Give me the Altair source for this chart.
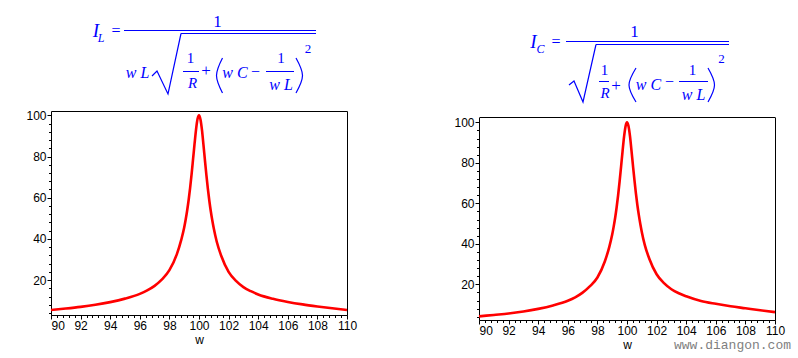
import altair as alt
import pandas as pd

# ---------------- data ----------------
w = [90, 91, 92, 93, 94, 95, 96, 96.5, 97, 97.5, 98, 98.5, 98.8, 99, 99.1, 99.2, 99.3,
     99.4, 99.5, 99.6, 99.7, 99.8, 99.9, 100, 100.1, 100.2, 100.3, 100.4, 100.5, 100.6,
     100.7, 100.8, 100.9, 101, 101.2, 101.5, 102, 102.5, 103, 103.5, 104, 105, 106, 107,
     108, 109, 110]
i_l = [5.5, 6.2, 7.0, 8.0, 9.3, 11.0, 13.3, 15.0, 17.2, 20.3, 24.8, 32.5, 39.5, 45.5, 49.4,
       53.8, 58.9, 64.8, 71.5, 78.8, 86.2, 93.1, 98.2, 100, 98.0, 92.9, 85.8, 78.3, 71.0,
       64.3, 58.4, 53.3, 48.9, 45.0, 38.6, 31.8, 24.0, 19.6, 16.6, 14.6, 13.0, 10.9, 9.4,
       8.2, 7.2, 6.3, 5.5]
i_c = [4.2, 4.9, 5.6, 6.6, 7.9, 9.6, 11.9, 13.6, 15.9, 19.1, 23.4, 31.3, 38.4, 44.6, 48.5,
       52.9, 58.1, 64.0, 70.8, 78.2, 85.7, 92.8, 98.0, 100, 98.2, 93.3, 86.3, 78.9, 71.7,
       65.1, 59.2, 54.2, 49.8, 45.9, 39.5, 32.8, 25.0, 20.6, 17.6, 15.6, 14.1, 11.8, 10.4,
       9.2, 8.2, 7.2, 6.3]

x_major = [90, 92, 94, 96, 98, 100, 102, 104, 106, 108, 110]
x_minor = [round(90 + 0.4 * k, 1) for k in range(51)]
y_major = [20, 40, 60, 80, 100]
y_minor = list(range(4, 101, 4))

watermark = ["www.diangon.com"]

BLUE = "#0000ff"
W, H = 724, 320


def panel(values, xrange, yrange, ydom, x_off, y_off, top_off, right_off):
    df = pd.DataFrame({"w": w, "v": values})
    xs = alt.Scale(domain=[90, 110], range=xrange, nice=False, zero=False)
    ys = alt.Scale(domain=ydom, range=yrange, nice=False, zero=False)
    base = alt.Chart(df)
    line = base.mark_line(color="#ff0000", strokeWidth=2.6, interpolate="monotone").encode(
        x=alt.X("w:Q", scale=xs, title="w",
                axis=alt.Axis(orient="bottom", offset=x_off, values=x_major, tickSize=4,
                              labelPadding=1, titlePadding=3, format="d",
                              labelAlign={"condition": {"test": "datum.value == 90", "value": "left"},
                                          "value": "center"})),
        y=alt.Y("v:Q", scale=ys, title=None,
                axis=alt.Axis(orient="left", offset=y_off, values=y_major, tickSize=4,
                              labelPadding=1, format="d")),
    )
    minor = base.mark_line(strokeOpacity=0).encode(
        x=alt.X("w:Q", scale=xs, title=None,
                axis=alt.Axis(orient="bottom", offset=x_off, values=x_minor, tickSize=2.5,
                              labels=False, domain=False)),
        y=alt.Y("v:Q", scale=ys, title=None,
                axis=alt.Axis(orient="left", offset=y_off, values=y_minor, tickSize=2.5,
                              labels=False, domain=False)),
    )
    frame = base.mark_line(strokeOpacity=0).encode(
        x=alt.X("w:Q", scale=xs, title=None,
                axis=alt.Axis(orient="top", offset=top_off, labels=False, ticks=False)),
        y=alt.Y("v:Q", scale=ys, title=None,
                axis=alt.Axis(orient="right", offset=right_off, labels=False, ticks=False)),
    )
    return [frame, minor, line]


def formula(italic, upright, bars, polys, curves):
    it = pd.DataFrame(italic, columns=["t", "x", "y", "s"])
    up = pd.DataFrame(upright, columns=["t", "x", "y", "s"])
    br = pd.DataFrame(bars, columns=["x1", "x2", "y"])
    pl = pd.DataFrame(polys, columns=["g", "o", "x", "y"])
    cv = pd.DataFrame(curves, columns=["g", "o", "x", "y"])
    enc = dict(x=alt.X("x:Q", scale=None), y=alt.Y("y:Q", scale=None),
               text="t:N", size=alt.Size("s:Q", scale=None))
    l1 = alt.Chart(it).mark_text(font="Liberation Serif", fontStyle="italic", color=BLUE,
                                 align="center", baseline="alphabetic").encode(**enc)
    l2 = alt.Chart(up).mark_text(font="Liberation Serif", color=BLUE,
                                 align="center", baseline="alphabetic").encode(**enc)
    l3 = alt.Chart(br).mark_rule(color=BLUE, strokeWidth=1).encode(
        x=alt.X("x1:Q", scale=None), x2="x2:Q", y=alt.Y("y:Q", scale=None))
    l4 = alt.Chart(pl).mark_line(color=BLUE, strokeWidth=1.2, interpolate="linear").encode(
        x=alt.X("x:Q", scale=None), y=alt.Y("y:Q", scale=None), detail="g:N", order="o:Q")
    l5 = alt.Chart(cv).mark_line(color=BLUE, strokeWidth=1.2, interpolate="natural").encode(
        x=alt.X("x:Q", scale=None), y=alt.Y("y:Q", scale=None), detail="g:N", order="o:Q")
    return [l1, l2, l3, l4, l5]


# formula layout (pixel positions; left plot's left edge is x = 0)
R = 428
fl = formula(
    italic=[("I", 45, 37, 19), ("L", 50, 42, 12), ("w L", 86.5, 78, 16), ("R", 141.5, 88, 15),
            ("w C", 184, 78, 16), ("w L", 230, 90, 16)],
    upright=[("=", 65, 36, 16), ("1", 166.5, 27, 17), ("1", 139.5, 63, 15), ("+", 155, 76, 17),
             ("\u2212", 204.5, 76.5, 16), ("1", 230, 63, 15), ("2", 257, 53, 13)],
    bars=[(73, 265, 30.5), (130, 265, 33.5), (132, 148, 71.5), (215, 243, 71.5)],
    polys=[("s", 0, 101, 76), ("s", 1, 106, 71), ("s", 2, 117, 94), ("s", 3, 130, 33.5)],
    curves=[("a", 0, 171.5, 58), ("a", 1, 165.5, 75.5), ("a", 2, 171.5, 93),
            ("b", 0, 245, 58), ("b", 1, 251.5, 75.5), ("b", 2, 245, 93)],
)
fr = formula(
    italic=[("I", R + 54.5, 48, 19), ("C", R + 61.5, 53, 12), ("R", R + 126, 98, 15),
            ("w C", R + 169.5, 90, 16), ("w L", R + 214.5, 100, 16)],
    upright=[("=", R + 77, 47, 16), ("1", R + 155.5, 37, 17), ("1", R + 125.5, 75, 15),
             ("+", R + 137, 91, 17), ("\u2212", R + 190.5, 86.5, 16), ("1", R + 213.5, 75, 15),
             ("2", R + 242.5, 63, 13)],
    bars=[(R + 87, R + 250, 41.5), (R + 117, R + 250, 44.5), (R + 120, R + 130, 81.5),
          (R + 200, R + 229, 81.5)],
    polys=[("s", 0, R + 90, 85), ("s", 1, R + 95, 81), ("s", 2, R + 104, 102), ("s", 3, R + 117, 44.5)],
    curves=[("a", 0, R + 157, 68), ("a", 1, R + 150, 85), ("a", 2, R + 157, 102),
            ("b", 0, R + 229, 68), ("b", 1, R + 235.5, 85), ("b", 2, R + 229, 102)],
)

pl = panel(i_l, [0, 296], [315, 111], [3.05, 102.1], x_off=-5, y_off=0,
           top_off=-111, right_off=296 - W)
pr = panel(i_c, [R, R + 296], [320, 117.3], [2.4, 102.5], x_off=0, y_off=-R,
           top_off=-117, right_off=0)

wm = alt.Chart(pd.DataFrame({"t": watermark})).mark_text(
    font="Liberation Mono", fontSize=13, color="#7f7f7f", align="left", baseline="alphabetic"
).encode(x=alt.value(623), y=alt.value(349), text="t:N")

chart = alt.layer(*pl, *pr, *fl, *fr, wm).resolve_scale(
    x="independent", y="independent"
).resolve_axis(
    x="independent", y="independent"
).properties(
    width=W, height=H,
    padding={"left": 25, "top": 0, "right": 0, "bottom": 0}, background="white",
).configure_view(strokeWidth=0).configure_axis(
    domainColor="black", tickColor="black", labelColor="black", titleColor="black",
    labelFont="Liberation Sans", labelFontSize=12, titleFont="Liberation Sans",
    titleFontSize=12, titleFontWeight="normal", domainWidth=1, tickWidth=1, grid=False,
)

chart.save("out.html", embed_options={"renderer": "svg", "actions": False})
